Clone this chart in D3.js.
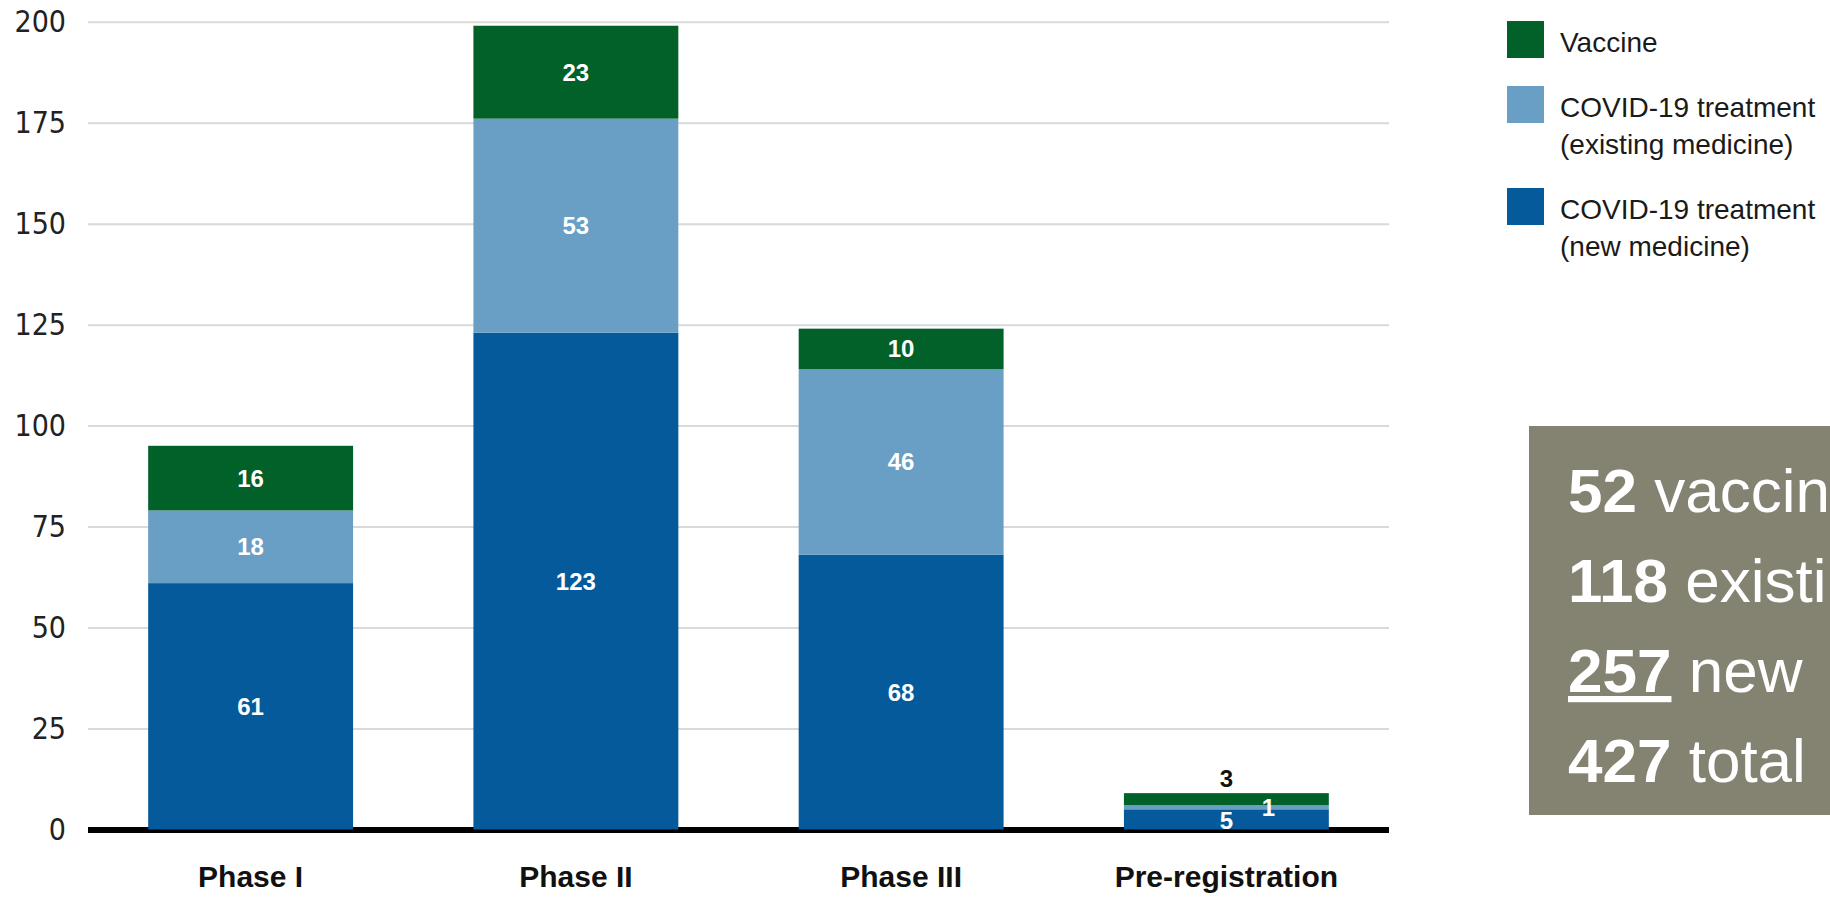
<!DOCTYPE html>
<html>
<head>
<meta charset="utf-8">
<script src="https://cdn.jsdelivr.net/npm/d3@7"></script>
<style>
  html, body { margin: 0; padding: 0; background: #ffffff; }
  svg { display: block; }
</style>
</head>
<body>
<svg id="chart" width="1830" height="897"></svg>
<script>
// ---- data ----
const categories = ["Phase I", "Phase II", "Phase III", "Pre-registration"];
const newMedicine = [61, 123, 68, 5];
const existingMedicine = [18, 53, 46, 1];
const vaccine = [16, 23, 10, 3];
const yTicks = [0, 25, 50, 75, 100, 125, 150, 175, 200];
const seriesKeys = ["new", "existing", "vaccine"];
const seriesColors = { new: "#045a9a", existing: "#699ec5", vaccine: "#016128" };
const legendItems = [
  { key: "vaccine", lines: ["Vaccine"] },
  { key: "existing", lines: ["COVID-19 treatment", "(existing medicine)"] },
  { key: "new", lines: ["COVID-19 treatment", "(new medicine)"] }
];
const summaryWords = ["vaccines", "existing", "new", "total"];

// ---- setup ----
const svg = d3.select("#chart");
const plotLeft = 88, plotRight = 1389, plotTop = 21.7, plotBottom = 829.5;

const table = categories.map((c, i) => ({
  category: c, new: newMedicine[i], existing: existingMedicine[i], vaccine: vaccine[i]
}));
const stacked = d3.stack().keys(seriesKeys)(table);

const x = d3.scaleBand().domain(categories).range([plotLeft, plotRight])
  .paddingInner(0.37).paddingOuter(0.185);
const y = d3.scaleLinear().domain([0, 200]).range([plotBottom, plotTop]);

// ---- grid + y axis ----
const yAxis = d3.axisLeft(y).tickValues(yTicks).tickSizeInner(-(plotRight - plotLeft))
  .tickSizeOuter(0).tickPadding(22);
const gAxis = svg.append("g").attr("transform", `translate(${plotLeft},0)`).call(yAxis);
gAxis.select(".domain").remove();
gAxis.selectAll(".tick line").attr("stroke", "#d9d9d9").attr("stroke-width", 2);
gAxis.selectAll(".tick text")
  .attr("fill", "#222")
  .style("font-family", "'Liberation Sans Narrow', 'DejaVu Sans Condensed', 'Liberation Sans', sans-serif")
  .style("font-size", "30px");

// baseline
svg.append("line").attr("x1", plotLeft).attr("x2", plotRight)
  .attr("y1", y(0) + 0.5).attr("y2", y(0) + 0.5)
  .attr("stroke", "#000").attr("stroke-width", 6);

// ---- bars ----
const layers = svg.append("g").selectAll("g").data(stacked).join("g")
  .attr("fill", d => seriesColors[d.key]);
layers.selectAll("rect").data(d => d.map(v => Object.assign(v, { key: d.key }))).join("rect")
  .attr("x", d => x(d.data.category))
  .attr("width", x.bandwidth())
  .attr("y", d => y(d[1]))
  .attr("height", d => y(d[0]) - y(d[1]));

// ---- value labels ----
const labelFont = "'Liberation Sans', Arial, sans-serif";
const labels = svg.append("g").style("font-family", labelFont).style("font-weight", "bold")
  .style("font-size", "24px").attr("text-anchor", "middle");
stacked.forEach(layer => {
  layer.forEach(d => {
    const v = d[1] - d[0];
    const cx = x(d.data.category) + x.bandwidth() / 2;
    const small = (y(d[0]) - y(d[1])) < 30;
    let tx = cx, ty = (y(d[0]) + y(d[1])) / 2, fill = "#fff", db = "central";
    if (small) {
      if (layer.key === "vaccine") { ty = y(d[1]) - 6; fill = "#111"; db = "auto"; }
      else if (layer.key === "existing") { tx = cx + 42; ty = (y(d[0]) + y(d[1])) / 2; }
      else { ty = y(d[0]) - 1; db = "auto"; }
    }
    labels.append("text").attr("x", tx).attr("y", ty).attr("fill", fill)
      .attr("dominant-baseline", db).text(v);
  });
});

// ---- category labels ----
svg.append("g").selectAll("text").data(categories).join("text")
  .attr("x", d => x(d) + x.bandwidth() / 2)
  .attr("y", 887)
  .attr("text-anchor", "middle")
  .style("font-family", labelFont).style("font-weight", "bold").style("font-size", "30px")
  .attr("fill", "#111")
  .text(d => d);

// ---- legend ----
const legend = svg.append("g").style("font-family", "'Liberation Sans', Arial, sans-serif")
  .style("font-size", "28px").attr("fill", "#1a1a1a");
let ly = 52;
legendItems.forEach(item => {
  legend.append("rect").attr("x", 1507).attr("y", ly - 31).attr("width", 37).attr("height", 37)
    .attr("fill", seriesColors[item.key]);
  item.lines.forEach((line, i) => {
    legend.append("text").attr("x", 1560).attr("y", ly + i * 37).text(line);
  });
  ly += 28 + item.lines.length * 37;
});

// ---- summary box ----
const totals = [d3.sum(vaccine), d3.sum(existingMedicine), d3.sum(newMedicine)];
totals.push(d3.sum(totals));
svg.append("rect").attr("x", 1529).attr("y", 426).attr("width", 330).attr("height", 389)
  .attr("fill", "#848372");
const box = svg.append("g").style("font-family", "'Liberation Sans', Arial, sans-serif")
  .style("font-size", "62px").attr("fill", "#fff");
totals.forEach((t, i) => {
  const txt = box.append("text").attr("x", 1568).attr("y", 512 + i * 90);
  const num = txt.append("tspan").style("font-weight", "bold").text(t);
  if (i === 2) num.style("text-decoration", "underline");
  txt.append("tspan").text(" " + summaryWords[i]);
});
</script>
</body>
</html>
